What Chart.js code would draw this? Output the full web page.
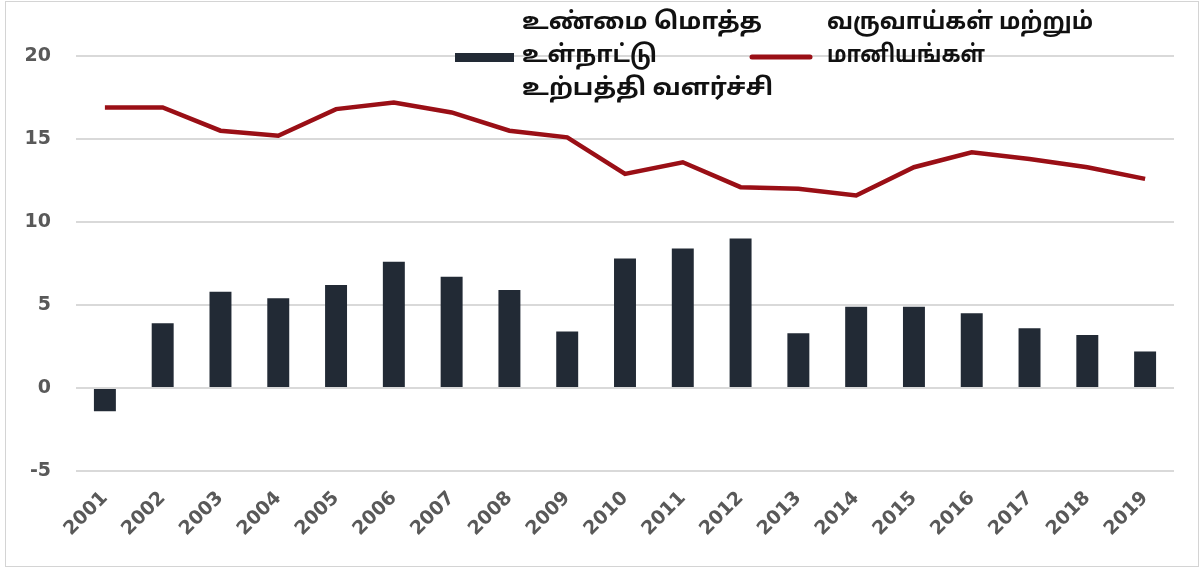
<!DOCTYPE html>
<html>
<head>
<meta charset="utf-8">
<script src="https://cdn.jsdelivr.net/npm/chart.js@4.4.1/dist/chart.umd.min.js"></script>
<style>
  html, body { margin: 0; padding: 0; background: #fff; }
  #wrap { width: 1203px; height: 573px; position: relative; }
</style>
</head>
<body>
<div id="wrap"><canvas id="grafico"></canvas></div>
<script>
// años
const anios = ['2001', '2002', '2003', '2004', '2005', '2006', '2007', '2008', '2009', '2010',
               '2011', '2012', '2013', '2014', '2015', '2016', '2017', '2018', '2019'];
// crecimiento del PIB real (barras)
const crecimientoPIB = [-1.4, 3.9, 5.8, 5.4, 6.2, 7.6, 6.7, 5.9, 3.4, 7.8,
                        8.4, 9.0, 3.3, 4.9, 4.9, 4.5, 3.6, 3.2, 2.2];
// ingresos y subvenciones (linea)
const ingresos = [16.9, 16.9, 15.5, 15.2, 16.8, 17.2, 16.6, 15.5, 15.1, 12.9,
                  13.6, 12.1, 12.0, 11.6, 13.3, 14.2, 13.8, 13.3, 12.6];
const ticksY = [-5, 0, 5, 10, 15, 20];

// nombres de las series, en líneas como en la leyenda
const nombreBarras = ['உண்மை மொத்த', 'உள்நாட்டு', 'உற்பத்தி வளர்ச்சி'];
const nombreLinea = ['வருவாய்கள் மற்றும்', 'மானியங்கள்'];

const colorBarras = '#222a35';
const colorLinea = '#9a0f16';
const fuenteTamil = '"Noto Sans Tamil", "Lohit Tamil", "Noto Sans", "DejaVu Sans", sans-serif';
const fuenteEjes = '"DejaVu Sans", Verdana, sans-serif';

// escribe un texto estirado hasta el ancho que tiene en la imagen
function textoAncho(ctx, texto, x, y, ancho) {
    const medido = ctx.measureText(texto).width;
    ctx.save();
    ctx.translate(x, y);
    ctx.scale(ancho / medido, 1);
    ctx.fillText(texto, 0, 0);
    ctx.restore();
}

// leyenda dibujada a mano (etiquetas de varias lineas)
const leyendaManual = {
    id: 'leyendaManual',
    afterDraw(chart) {
        const ctx = chart.ctx;
        ctx.save();
        // marco de la imagen
        ctx.strokeStyle = '#d4d4d4';
        ctx.lineWidth = 1;
        ctx.strokeRect(5.5, 1.5, 1193, 565);

        ctx.font = 'bold 24px ' + fuenteTamil;
        ctx.textBaseline = 'middle';
        ctx.textAlign = 'left';

        // serie de barras
        ctx.fillStyle = colorBarras;
        ctx.fillRect(455, 53, 59, 9);
        ctx.fillStyle = '#111';
        textoAncho(ctx, nombreBarras[0], 522, 24, 240);
        textoAncho(ctx, nombreBarras[1], 522, 57, 135);
        textoAncho(ctx, nombreBarras[2], 522, 90, 251);

        // serie de linea
        ctx.strokeStyle = colorLinea;
        ctx.lineWidth = 5;
        ctx.lineCap = 'round';
        ctx.beginPath();
        ctx.moveTo(752, 57);
        ctx.lineTo(810, 57);
        ctx.stroke();
        textoAncho(ctx, nombreLinea[0], 827, 24, 266);
        textoAncho(ctx, nombreLinea[1], 827, 57, 158);
        ctx.restore();
    }
};

const ctx = document.getElementById('grafico').getContext('2d');
new Chart(ctx, {
    type: 'bar',
    data: {
        labels: anios,
        datasets: [
            {
                type: 'line',
                label: nombreLinea.join(' '),
                data: ingresos,
                borderColor: colorLinea,
                backgroundColor: colorLinea,
                borderWidth: 4.5,
                pointRadius: 0,
                tension: 0,
                order: 0
            },
            {
                label: nombreBarras.join(' '),
                data: crecimientoPIB,
                backgroundColor: colorBarras,
                categoryPercentage: 1,
                barPercentage: 0.38,
                order: 1
            }
        ]
    },
    options: {
        responsive: true,
        maintainAspectRatio: false,
        animation: false,
        layout: { padding: { left: 6, top: 56, right: 29, bottom: 0 } },
        plugins: {
            legend: { display: false },
            tooltip: { enabled: false }
        },
        scales: {
            x: {
                grid: { display: false },
                border: { display: false },
                ticks: {
                    color: '#595959',
                    font: { family: fuenteEjes, size: 19, weight: 'bold' },
                    maxRotation: 45,
                    minRotation: 45,
                    padding: 8
                },
                afterFit: function(escala) { escala.height = 102; }
            },
            y: {
                min: -5,
                max: 20,
                afterBuildTicks: function(escala) {
                    escala.ticks = ticksY.map(v => ({ value: v }));
                },
                grid: { color: '#d9d9d9', lineWidth: 2, drawTicks: false },
                border: { display: false },
                ticks: {
                    color: '#595959',
                    font: { family: fuenteEjes, size: 19, weight: 'bold' },
                    padding: 25
                },
                afterFit: function(escala) { escala.width = 70; }
            }
        }
    },
    plugins: [leyendaManual]
});
</script>
</body>
</html>
